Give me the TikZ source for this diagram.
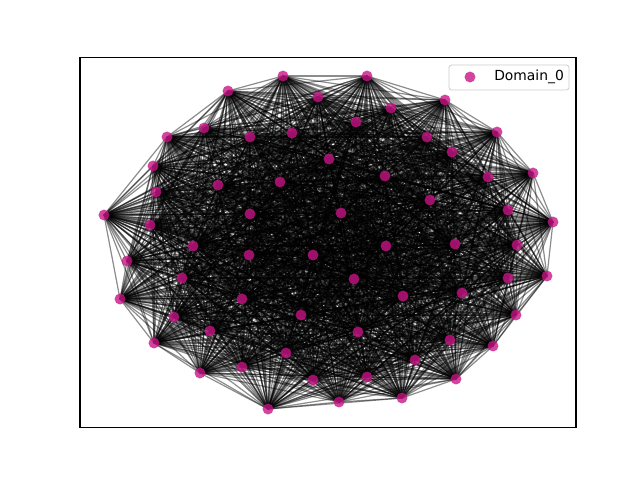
\documentclass[tikz,border=0pt]{standalone}
\usepackage{fontspec}
\setmainfont{DejaVu Sans}
\usepackage{xcolor}
\usepackage{tikz}
\usetikzlibrary{backgrounds}
\definecolor{dompink}{RGB}{199, 21, 133}
\definecolor{legframe}{RGB}{204, 204, 204}

\begin{document}
\begin{tikzpicture}[x=0.75pt, y=-0.75pt,
  vert/.style={circle, fill=dompink, fill opacity=0.8, inner sep=0pt, minimum size=8.2pt},
  edge/.style={black, opacity=0.45, line width=0.9pt}]
\useasboundingbox (0,0) rectangle (640,480);
% Axes frame
\draw[line width=0.8pt] (80,57.6) rectangle (576,427.2);
% Vertices
\foreach \x/\y [count=\i] in {
  283/76, 367/76, 228/91, 318/97, 445/100, 391/108, 204/128, 356/122,
  167/137, 292/133, 250/137, 497/132, 427/137, 452/152, 329/159, 153/166,
  385/176, 533/173, 280/182, 488/177, 156/192, 218/185, 430/200, 104/215,
  250/214, 341/213, 508/210, 150/225, 553/222, 193/246, 386/246, 455/244,
  517/245, 127/261, 249/255, 313/255, 182/278, 354/279, 508/278, 547/276,
  120/299, 242/299, 403/296, 462/293, 174/317, 301/315, 516/315, 210/331,
  358/332, 450/340, 154/343, 493/346, 286/353, 415/360, 242/367, 200/373,
  456/379, 313/380, 367/377, 402/398, 268/409, 339/402} {
  \node[vert] (n\i) at (\x,\y) {};
}
% Edges: every pair of vertices
\begin{scope}[on background layer]
\foreach \i in {1,...,61} {
  \pgfmathtruncatemacro{\jstart}{\i+1}
  \foreach \j in {\jstart,...,62} {
    \draw[edge] (n\i.center) -- (n\j.center);
  }
}
\end{scope}
% Legend
\draw[legframe, rounded corners=2pt, fill=white, fill opacity=0.8, line width=0.6pt] (449,65) rectangle (569,90);
\node[vert] (leg) at (470,77) {};
\node[anchor=west, font=\fontsize{10.4}{12}\selectfont, inner sep=0pt] (legtext) at (494,77) {Domain\_0};
\end{tikzpicture}
\end{document}
